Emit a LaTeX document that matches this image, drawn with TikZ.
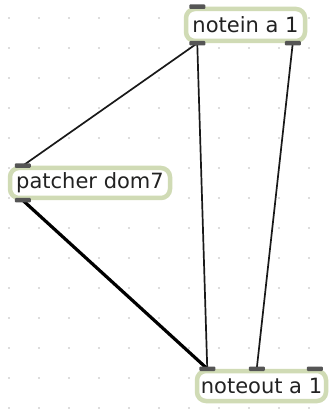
\documentclass[tikz,border=0pt]{standalone}
\usepackage{fontspec}
\setmainfont{DejaVu Sans}
\usetikzlibrary{backgrounds,calc}
\definecolor{boxborder}{HTML}{D0DBB5}
\definecolor{portc}{HTML}{555555}
\definecolor{txt}{HTML}{222222}
\definecolor{dotc}{HTML}{BBBBBB}
\begin{document}
\begin{tikzpicture}[x=1pt,y=-1pt,
  obj/.style={draw=boxborder, line width=4.5pt, fill=white, rounded corners=9pt,
    inner sep=0pt, font=\fontsize{21}{22}\selectfont, text=txt, anchor=center},
  port/.style={fill=portc, rounded corners=1pt, minimum width=16pt,
    minimum height=4.5pt, inner sep=0pt},
  patch/.style={line width=1.7pt, black!90},
  thickpatch/.style={line width=3.2pt, black}]
\useasboundingbox (0,0) rectangle (330,411);
\begin{pgfonlayer}{background}
\fill[white] (0,0) rectangle (330,411);
\foreach \x in {9,39,...,309} {
  \foreach \y in {18,48,...,408} {
    \fill[dotc] (\x,\y) circle (0.8pt);
  }
}
\end{pgfonlayer}
% objects
\node[obj, minimum width=119pt, minimum height=32pt] (notein) at (245.5,25) {notein a 1};
\node[obj, minimum width=160pt, minimum height=30pt] (patcher) at (90,183) {patcher dom7};
\node[obj, minimum width=129pt, minimum height=30pt] (noteout) at (261.5,386) {noteout a 1};
% ports
\node[port] (ni-in) at ($(notein.north west)+(13.5,0)$) {};
\node[port] (ni-out1) at ($(notein.south west)+(13.5,0)$) {};
\node[port] (ni-out2) at ($(notein.south east)+(-14.5,0)$) {};
\node[port] (pa-in) at ($(patcher.north west)+(15,0)$) {};
\node[port] (pa-out) at ($(patcher.south west)+(15,0)$) {};
\node[port] (no-in1) at ($(noteout.north west)+(12.5,0)$) {};
\node[port] (no-in2) at ($(noteout.north west)+(62,0)$) {};
\node[port] (no-in3) at ($(noteout.north east)+(-13.5,0)$) {};
% patch cords
\begin{pgfonlayer}{background}
\draw[patch] (ni-out1.center) -- (pa-in.center);
\draw[patch] (ni-out1.center) -- (no-in1.center);
\draw[patch] (ni-out2.center) -- (no-in2.center);
\draw[thickpatch] (pa-out.center) -- (no-in1.center);
\end{pgfonlayer}
\end{tikzpicture}
\end{document}
